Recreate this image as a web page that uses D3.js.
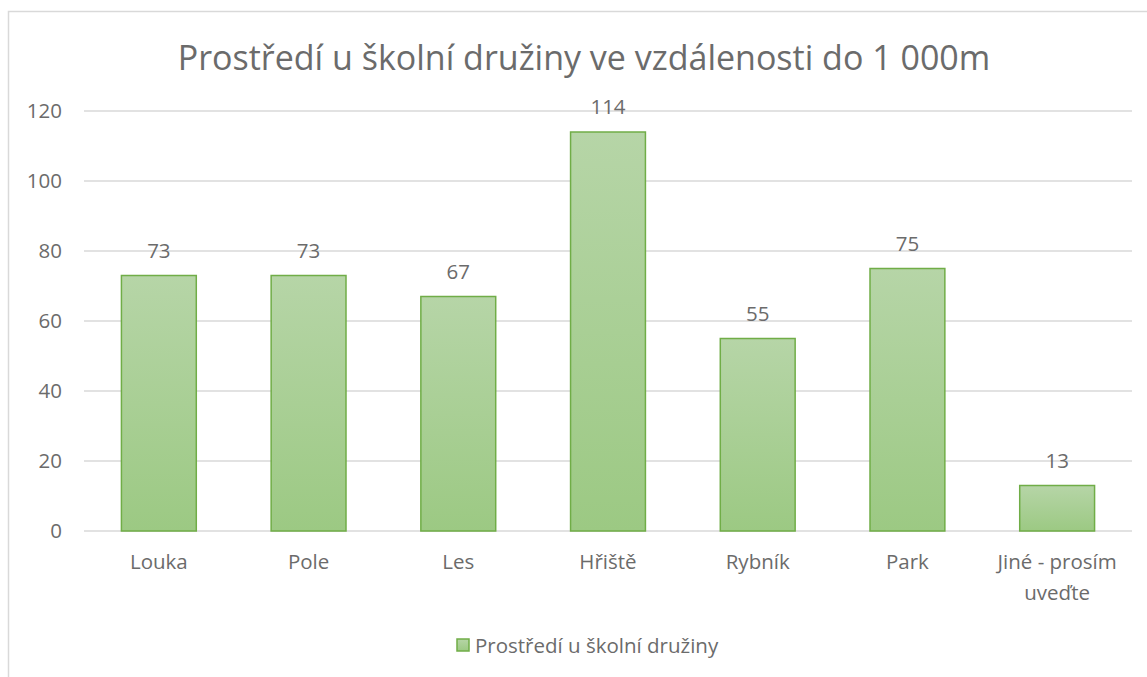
<!DOCTYPE html>
<html>
<head>
<meta charset="utf-8">
<script src="https://cdn.jsdelivr.net/npm/d3@7"></script>
<style>
  body { margin: 0; background: #fff; }
  text { font-family: "Open Sans", sans-serif; fill: #6b6b6b; }
</style>
</head>
<body>
<svg></svg>
<script>
// Chart data
var categories = ["Louka", "Pole", "Les", "Hřiště", "Rybník", "Park", "Jiné - prosím uveďte"]
var values = [73, 73, 67, 114, 55, 75, 13]
var yTicks = [0, 20, 40, 60, 80, 100, 120]
var seriesName = "Prostředí u školní družiny"
var title = "Prostředí u školní družiny ve vzdálenosti do 1 000m"

var canvasSize = {width: 1147, height: 677}
var margin = {top: 111, right: 15, bottom: 146, left: 84},
    width = canvasSize.width - margin.left - margin.right,
    height = canvasSize.height - margin.top - margin.bottom;
var labelSize = "20.5px"

var svg = d3.select("svg")
    .attr("width", canvasSize.width)
    .attr("height", canvasSize.height)

// gradient fill for bars
var grad = svg.append("defs").append("linearGradient")
    .attr("id", "barGrad")
    .attr("x1", 0).attr("y1", 0).attr("x2", 0).attr("y2", 1)
grad.append("stop").attr("offset", "0%").attr("stop-color", "#b6d5a7")
grad.append("stop").attr("offset", "100%").attr("stop-color", "#9cc983")

// chart border
svg.append("rect")
    .attr("x", 8.5).attr("y", 11.5)
    .attr("width", 1160).attr("height", 700)
    .attr("fill", "none")
    .attr("stroke", "#d9d9d9")
    .attr("stroke-width", 1.5)

svg.append("text")
    .attr("x", 584)
    .attr("y", 70)
    .attr("text-anchor", "middle")
    .attr("font-size", "34px")
    .text(title)

var view = svg.append("g")
    .attr("transform", `translate(${margin.left},${margin.top})`)

var x = d3.scaleBand()
    .domain(categories)
    .range([0, width])
    .paddingInner(0.5)
    .paddingOuter(0.25)

var y = d3.scaleLinear()
    .domain([0, 120])
    .range([height, 0])

// gridlines
view.selectAll(".grid")
    .data(yTicks)
    .enter().append("line")
    .attr("class", "grid")
    .attr("x1", 0).attr("x2", width)
    .attr("y1", d => y(d)).attr("y2", d => y(d))
    .attr("stroke", "#d9d9d9")
    .attr("stroke-width", 1.3)

// y tick labels
const yAxis = d3.axisLeft(y).tickValues(yTicks).tickSize(0).tickPadding(22)
view.append("g").call(yAxis)
    .call(g => g.select(".domain").remove())
    .selectAll("text")
    .attr("font-size", labelSize)
    .attr("font-family", null)
    .attr("fill", null)

// bars
view.selectAll(".bar")
    .data(values)
    .enter().append("rect")
    .attr("class", "bar")
    .attr("x", (d, i) => x(categories[i]))
    .attr("y", d => y(d))
    .attr("width", x.bandwidth())
    .attr("height", d => height - y(d))
    .attr("fill", "url(#barGrad)")
    .attr("stroke", "#70ad47")
    .attr("stroke-width", 1.5)

// value labels
view.selectAll(".val")
    .data(values)
    .enter().append("text")
    .attr("class", "val")
    .attr("x", (d, i) => x(categories[i]) + x.bandwidth() / 2)
    .attr("y", d => y(d) - 18)
    .attr("text-anchor", "middle")
    .attr("font-size", labelSize)
    .text(d => d)

// x labels (wrap the long one)
var wrapped = {"Jiné - prosím uveďte": ["Jiné - prosím", "uveďte"]}
categories.forEach(c => {
    var lines = wrapped[c] || [c]
    var t = view.append("text")
        .attr("x", x(c) + x.bandwidth() / 2)
        .attr("y", height + 38)
        .attr("text-anchor", "middle")
        .attr("font-size", labelSize)
    lines.forEach((l, i) => {
        t.append("tspan")
            .attr("x", x(c) + x.bandwidth() / 2)
            .attr("dy", i == 0 ? 0 : 31)
            .text(l)
    })
})

// legend
var legend = svg.append("g").attr("transform", "translate(457,653)")
legend.append("rect")
    .attr("x", 0).attr("y", -14)
    .attr("width", 12).attr("height", 12)
    .attr("fill", "url(#barGrad)")
    .attr("stroke", "#70ad47")
    .attr("stroke-width", 1.5)
legend.append("text")
    .attr("x", 18).attr("y", 0)
    .attr("font-size", labelSize)
    .text(seriesName)
</script>
</body>
</html>
